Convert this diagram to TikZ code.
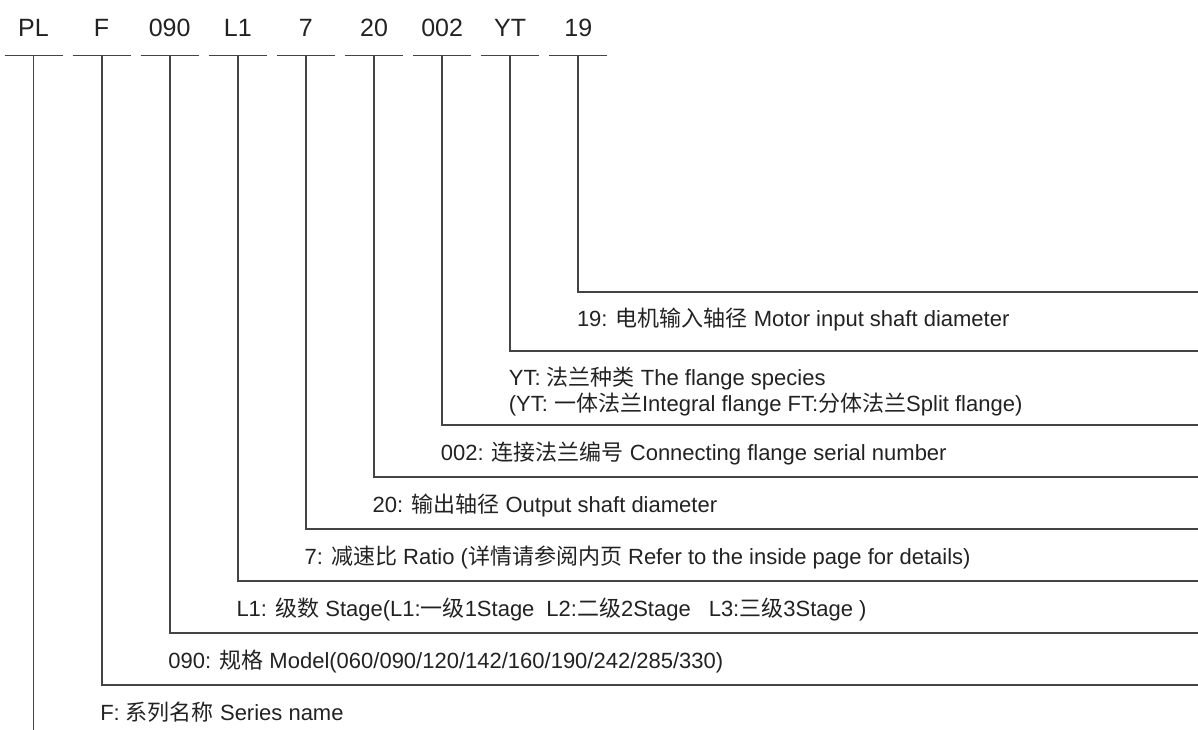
\documentclass[tikz,border=0pt]{standalone}
\usepackage{fontspec}
\setmainfont{Liberation Sans}
\newfontfamily\cjkfam{Noto Sans CJK SC}
\newcommand\zh[1]{{\cjkfam #1}}
\definecolor{ln}{HTML}{444444}
\definecolor{tx}{HTML}{222222}
\begin{document}
\begin{tikzpicture}[x=1pt,y=-1pt,
  code/.style={anchor=base, inner sep=0pt, font=\fontsize{25}{30}\selectfont, text=tx},
  lbl/.style={anchor=base west, inner sep=0pt, font=\fontsize{22}{26}\selectfont, text=tx},
  rule/.style={draw=ln, line width=1.6pt},
  leader/.style={draw=ln, line width=1.8pt}]
\useasboundingbox (0,0) rectangle (1198,730);
% header codes, underlines and vertical tops
\foreach \i/\t in {0/PL,1/F,2/090,3/L1,4/7,5/20,6/002,7/YT,8/19}{
  \node[code] (h\i) at ({33.5+68.1*\i},37) {\t};
  \coordinate (t\i) at ({33.5+68.1*\i},55.5);
  \draw[rule] ([xshift=-29pt]t\i) -- ([xshift=29pt]t\i);
}
% leader ends at the right edge
\foreach \i/\y in {1/685,2/633,3/581,4/529,5/477,6/425,7/351,8/292}{
  \coordinate (e\i) at (1202,\y);
  \draw[leader] (t\i) |- (e\i);
}
\coordinate (b0) at (33.5,732);
\draw[leader] (t0) -- (b0);
% labels
\node[lbl] (l8) at (576.8,326) {19: \zh{电机输入轴径} Motor input shaft diameter};
\node[lbl] (l7a) at (508.7,385) {YT: \zh{法兰种类} The flange species};
\node[lbl] (l7b) at (508.7,411.5) {(YT: \zh{一体法兰}Integral flange FT:\zh{分体法兰}Split flange)};
\node[lbl] (l6) at (440.6,460) {002: \zh{连接法兰编号} Connecting flange serial number};
\node[lbl] (l5) at (372.5,512) {20: \zh{输出轴径} Output shaft diameter};
\node[lbl] (l4) at (304.4,564) {7: \zh{减速比} Ratio (\zh{详情请参阅内页} Refer to the inside page for details)};
\node[lbl] (l3) at (236.3,616) {L1: \zh{级数} Stage(L1:\zh{一级}1Stage\hspace{12pt}L2:\zh{二级}2Stage\hspace{18pt}L3:\zh{三级}3Stage )};
\node[lbl] (l2) at (168.2,668) {090: \zh{规格} Model(060/090/120/142/160/190/242/285/330)};
\node[lbl] (l1) at (100.1,720) {F: \zh{系列名称} Series name};
\end{tikzpicture}
\end{document}
